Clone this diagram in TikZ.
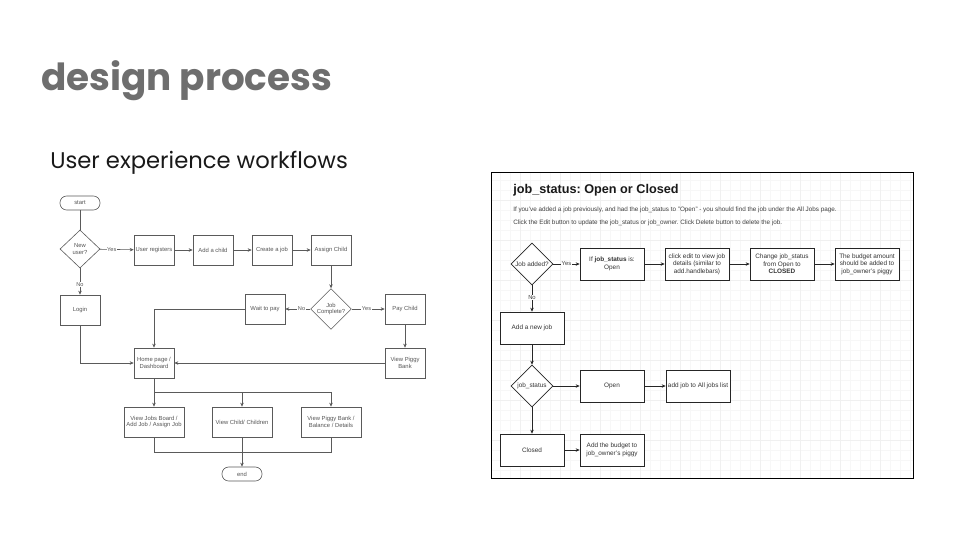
\documentclass[tikz,border=0pt]{standalone}
\usepackage{fontspec}
\setmainfont{Liberation Sans}
\newfontfamily\headfont{Poppins}
\usetikzlibrary{shapes.geometric,arrows.meta}
\frenchspacing
\definecolor{headgray}{HTML}{6E6E6E}
\definecolor{lline}{HTML}{5A5A5A}
\definecolor{ltext}{HTML}{555555}
\tikzset{
  lbox/.style={draw=lline,line width=0.45pt,minimum width=30pt,minimum height=22.5pt,inner sep=0pt,align=center,text=ltext,font=\fontsize{4.4}{5.2}\selectfont},
  lwide/.style={lbox,minimum width=45pt},
  ldia/.style={draw=lline,line width=0.45pt,diamond,minimum width=30pt,minimum height=28.5pt,inner sep=0pt,align=center,text=ltext,font=\fontsize{4.4}{5.2}\selectfont},
  lterm/.style={draw=lline,line width=0.45pt,rounded corners=5pt,minimum width=30pt,minimum height=10.5pt,inner sep=0pt,text=ltext,font=\fontsize{4.4}{5.2}\selectfont},
  larr/.style={draw=lline,line width=0.45pt,-{Stealth[length=3pt,width=2.6pt]}},
  lln/.style={draw=lline,line width=0.45pt},
  llab/.style={fill=white,inner sep=0.4pt,text=ltext,font=\fontsize{4.2}{5}\selectfont},
  rbox/.style={draw=black!85,line width=0.5pt,fill=white,minimum width=48pt,minimum height=24pt,inner sep=0pt,align=center,text=black!80,font=\fontsize{4.8}{5.7}\selectfont},
  rdia/.style={draw=black!85,line width=0.5pt,fill=white,diamond,minimum width=31.5pt,minimum height=31.5pt,inner sep=0pt,align=center,text=black!80,font=\fontsize{4.8}{5.7}\selectfont},
  rarr/.style={draw=black!85,line width=0.5pt,-{Stealth[length=3pt,width=2.6pt]}},
  rlab/.style={fill=white,inner sep=0.4pt,text=black!75,font=\fontsize{4.4}{5}\selectfont},
}
\begin{document}
\begin{tikzpicture}[x=0.75pt,y=-0.75pt]
\useasboundingbox (0,0) rectangle (960,540);
\fill[white] (0,0) rectangle (960,540);
% headings
\node[anchor=base west,inner sep=0pt,text=headgray,font=\headfont\bfseries\fontsize{28}{31}\selectfont] (title) at (41,90) {design process};
\node[anchor=base west,inner sep=0pt,text=black!90,font=\headfont\fontsize{17}{20}\selectfont] (sub) at (50,168) {User experience workflows};

% ---------- left workflow ----------
\node[lterm] (start) at (80,203) {start};
\node[ldia] (newu) at (80,249) {New\\user?};
\node[lbox] (reg) at (154,250) {User registers};
\node[lbox] (child) at (213,250) {Add a child};
\node[lbox] (cjob) at (272,250) {Create a job};
\node[lbox] (assign) at (331,250) {Assign Child};
\node[ldia] (jc) at (331,309) {Job\\Complete?};
\node[lbox] (wait) at (265,309) {Wait to pay};
\node[lbox] (login) at (80,310) {Login};
\node[lbox] (pay) at (405,309) {Pay Child};
\node[lbox] (vpig) at (405,363) {View Piggy\\Bank};
\node[lbox] (home) at (154,363) {Home page /\\Dashboard};
\node[lwide] (vjobs) at (154,422) {View Jobs Board /\\Add Job / Assign Job};
\node[lwide] (vchild) at (242,422) {View Child/ Children};
\node[lwide] (vbal) at (331,422) {View Piggy Bank /\\Balance / Details};
\node[lterm] (end) at (242,474) {end};
\coordinate (split) at (154,392);
\coordinate (join) at (242,452);

\draw[lln] (start) -- (newu);
\draw[larr] (newu) -- node[llab,pos=0.35]{Yes} (reg);
\draw[larr] (newu) -- node[llab,pos=0.6]{No} (login);
\draw[larr] (reg) -- (child);
\draw[larr] (child) -- (cjob);
\draw[larr] (cjob) -- (assign);
\draw[larr] (assign) -- (jc);
\draw[larr] (jc) -- node[llab,pos=0.35]{No} (wait);
\draw[larr] (jc) -- node[llab,pos=0.45]{Yes} (pay);
\draw[larr] (wait) -| (home);
\draw[larr] (login) |- (home);
\draw[larr] (pay) -- (vpig);
\draw[larr] (vpig) -- (home);
\draw[larr] (home) -- (vjobs);
\draw[larr] (split) -| (vchild);
\draw[larr] (split) -| (vbal);
\draw[lln] (vjobs) |- (join);
\draw[lln] (vbal) |- (join);
\draw[larr] (vchild) -- (end);

% ---------- right panel ----------
\fill[white] (491,172) rectangle (913,478);
\draw[black!3,line width=0.3pt,step=7.5pt] (491,172) grid (913,478);
\draw[black!6,line width=0.35pt,step=30pt] (491,172) grid (913,478);
\draw[black,line width=0.75pt] (491,172) rectangle (913,478);

\node[anchor=west,inner sep=0pt,font=\bfseries\fontsize{9.5}{11}\selectfont,text=black!90] (rtitle) at (513,190) {job\_status: Open or Closed};
\node[anchor=west,inner sep=0pt,font=\fontsize{4.75}{5.5}\selectfont,text=black!75] (l1) at (513,210) {If you've added a job previously, and had the job\_status to "Open" - you should find the job under the All Jobs page.};
\node[anchor=west,inner sep=0pt,font=\fontsize{4.75}{5.5}\selectfont,text=black!75] (l2) at (513,223) {Click the Edit button to update the job\_status or job\_owner. Click Delete button to delete the job.};

\node[rdia] (jadd) at (532,264) {Job added?};
\node[rbox] (ifo) at (612,264) {If \textbf{job\_status} is:\\Open};
\node[rbox] (edit) at (697,264) {click edit to view job\\details (similar to\\add.handlebars)};
\node[rbox] (chg) at (782,264) {Change job\_status\\from Open to\\\textbf{CLOSED}};
\node[rbox] (bud) at (867,264) {The budget amount\\should be added to\\job\_owner's piggy};
\node[rbox] (addnew) at (532,328) {Add a new job};
\node[rdia] (jst) at (532,386) {job\_status};
\node[rbox] (open) at (612,386) {Open};
\node[rbox] (alljobs) at (698,386) {add job to All jobs list};
\node[rbox] (closed) at (532,450) {Closed};
\node[rbox] (addbud) at (612,450) {Add the budget to\\job\_owner's piggy};

\draw[rarr] (jadd) -- node[rlab]{Yes} (ifo);
\draw[rarr] (ifo) -- (edit);
\draw[rarr] (edit) -- (chg);
\draw[rarr] (chg) -- (bud);
\draw[rarr] (jadd) -- node[rlab,pos=0.45]{No} (addnew);
\draw[rarr] (addnew) -- (jst);
\draw[rarr] (jst) -- (open);
\draw[rarr] (open) -- (alljobs);
\draw[rarr] (jst) -- (closed);
\draw[rarr] (closed) -- (addbud);
\end{tikzpicture}
\end{document}
